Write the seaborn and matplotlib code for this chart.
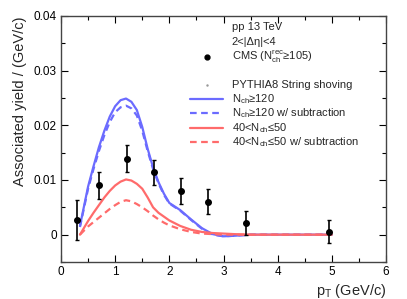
import numpy as np
import pandas as pd
import matplotlib
matplotlib.use("Agg")
import matplotlib.pyplot as plt
import seaborn as sns
from matplotlib.ticker import MultipleLocator
from matplotlib.lines import Line2D

# ---- data ----
cms_pt = [0.30, 0.71, 1.22, 1.72, 2.22, 2.72, 3.41, 4.94]
cms_yield = [0.0027, 0.0090, 0.0139, 0.0114, 0.0080, 0.0060, 0.0022, 0.0005]
cms_err = [0.0036, 0.0024, 0.0025, 0.0023, 0.0023, 0.0023, 0.0022, 0.0021]

curve_pt = [0.35, 0.5, 0.6, 0.7, 0.8, 0.9, 1.0, 1.1, 1.2, 1.3, 1.4, 1.5, 1.6, 1.7,
            1.8, 1.9, 2.0, 2.2, 2.4, 2.6, 2.8, 3.0, 3.2, 3.5, 4.0, 4.5, 5.0]
high_mult = [0.0016, 0.0088, 0.0125, 0.0160, 0.0190, 0.0216, 0.0235, 0.0246, 0.0249,
             0.0243, 0.0228, 0.0197, 0.0157, 0.0123, 0.0096, 0.0075, 0.0058, 0.0045,
             0.0028, 0.0012, 0.0001, -0.0003, -0.0002, 0.0000, 0.0000, 0.0000, 0.0000]
high_mult_sub = [0.0014, 0.0084, 0.0120, 0.0153, 0.0182, 0.0206, 0.0224, 0.0233, 0.0236,
                 0.0231, 0.0218, 0.0190, 0.0153, 0.0120, 0.0094, 0.0073, 0.0057, 0.0044,
                 0.0027, 0.0011, 0.0000, -0.0003, -0.0002, 0.0000, 0.0000, 0.0000, 0.0000]
low_mult = [0.0000, 0.0025, 0.0040, 0.0054, 0.0068, 0.0080, 0.0090, 0.0097, 0.0101,
            0.0099, 0.0093, 0.0084, 0.0068, 0.0050, 0.0040, 0.0033, 0.0026, 0.0016,
            0.0009, 0.0005, 0.0003, 0.0002, 0.0001, 0.0000, 0.0000, 0.0000, 0.0000]
low_mult_sub = [0.0000, 0.0015, 0.0023, 0.0031, 0.0039, 0.0047, 0.0054, 0.0060, 0.0063,
                0.0061, 0.0056, 0.0050, 0.0043, 0.0035, 0.0028, 0.0022, 0.0017, 0.0010,
                0.0005, 0.0002, 0.0001, 0.0000, 0.0000, 0.0000, 0.0000, 0.0000, 0.0000]

header_lines = ["pp 13 TeV", "2<|Δη|<4"]
cms_label = "CMS (N$_{\\rm ch}^{\\rm rec}$≥105)"
model_label = "PYTHIA8 String shoving"
series_labels = ["N$_{\\rm ch}$≥120", "N$_{\\rm ch}$≥120 w/ subtraction",
                 "40<N$_{\\rm ch}$≤50", "40<N$_{\\rm ch}$≤50 w/ subtraction"]

# ---- style ----
sns.set_theme(style="ticks")
plt.rcParams["font.family"] = ["Liberation Sans", "DejaVu Sans"]
plt.rcParams["mathtext.fontset"] = "custom"
plt.rcParams["mathtext.rm"] = "Liberation Sans"
plt.rcParams["mathtext.it"] = "Liberation Sans:italic"

blue = "#6b6bff"
red = "#ff6b6b"

fig = plt.figure(figsize=(4.07, 2.99), dpi=100)
ax = fig.add_axes([61/407, 1-262/299, 325/407, 246/299])

df = pd.DataFrame({
    "pt": curve_pt * 4,
    "y": high_mult + high_mult_sub + low_mult + low_mult_sub,
    "series": sum([[s] * len(curve_pt) for s in series_labels], []),
})
styles = [(blue, "-"), (blue, (0, (3, 2))), (red, "-"), (red, (0, (3, 2)))]
for lab, (c, ls) in zip(series_labels, styles):
    sub = df[df["series"] == lab]
    sns.lineplot(data=sub, x="pt", y="y", ax=ax, color=c, linestyle=ls,
                 linewidth=1.6, legend=False, estimator=None, sort=False)

ax.errorbar(cms_pt, cms_yield, yerr=cms_err, fmt="o", color="black",
            markersize=4, elinewidth=1.2, capsize=1.5, capthick=1.0, zorder=5)

ax.set_xlim(0, 6)
ax.set_ylim(-0.005, 0.04)
ax.xaxis.set_major_locator(MultipleLocator(1))
ax.xaxis.set_minor_locator(MultipleLocator(0.5))
ax.yaxis.set_major_locator(MultipleLocator(0.01))
ax.yaxis.set_minor_locator(MultipleLocator(0.005))
ax.set_yticks([0, 0.01, 0.02, 0.03, 0.04])
ax.set_yticklabels(["0", "0.01", "0.02", "0.03", "0.04"])
ax.tick_params(which="both", direction="in", top=True, right=True,
               labelsize=8.5, colors="black", pad=3)
ax.tick_params(which="major", length=5, width=0.8)
ax.tick_params(which="minor", length=3, width=0.8)
for s in ax.spines.values():
    s.set_color("#444444")
    s.set_linewidth(1.0)

ax.set_xlabel("p$_{\\rm T}$ (GeV/c)", fontsize=10.5, loc="right", labelpad=3)
ax.set_ylabel("Associated yield / (GeV/c)", fontsize=10.5, loc="top", labelpad=5)

# ---- legend (manual, axes fraction) ----
tx = (231.5 - 61) / 325
def yf(py):
    return (262 - py) / 246
fs = 8
ax.text(tx, yf(27.3), header_lines[0], transform=ax.transAxes, fontsize=fs, va="center")
ax.text(tx, yf(42.3), header_lines[1], transform=ax.transAxes, fontsize=fs, va="center")
ax.plot([(207.3 - 61) / 325], [yf(56.7)], "o", color="black", markersize=3.5,
        transform=ax.transAxes, clip_on=False)
ax.text(tx, yf(56.7), cms_label, transform=ax.transAxes, fontsize=fs, va="center")
ax.plot([(207.3 - 61) / 325], [yf(85)], ".", color="#999999", markersize=1.5,
        transform=ax.transAxes, clip_on=False)
ax.text(tx, yf(85), model_label, transform=ax.transAxes, fontsize=fs, va="center")
rows = [99.3, 113.3, 127.7, 142.3]
for lab, (c, ls), py in zip(series_labels, styles, rows):
    ax.add_line(Line2D([(190 - 61) / 325, (223.3 - 61) / 325], [yf(py), yf(py)],
                       color=c, linestyle=ls, linewidth=1.6, transform=ax.transAxes))
    ax.text(tx, yf(py), lab, transform=ax.transAxes, fontsize=fs, va="center")

fig.savefig("out.png", dpi=100)
